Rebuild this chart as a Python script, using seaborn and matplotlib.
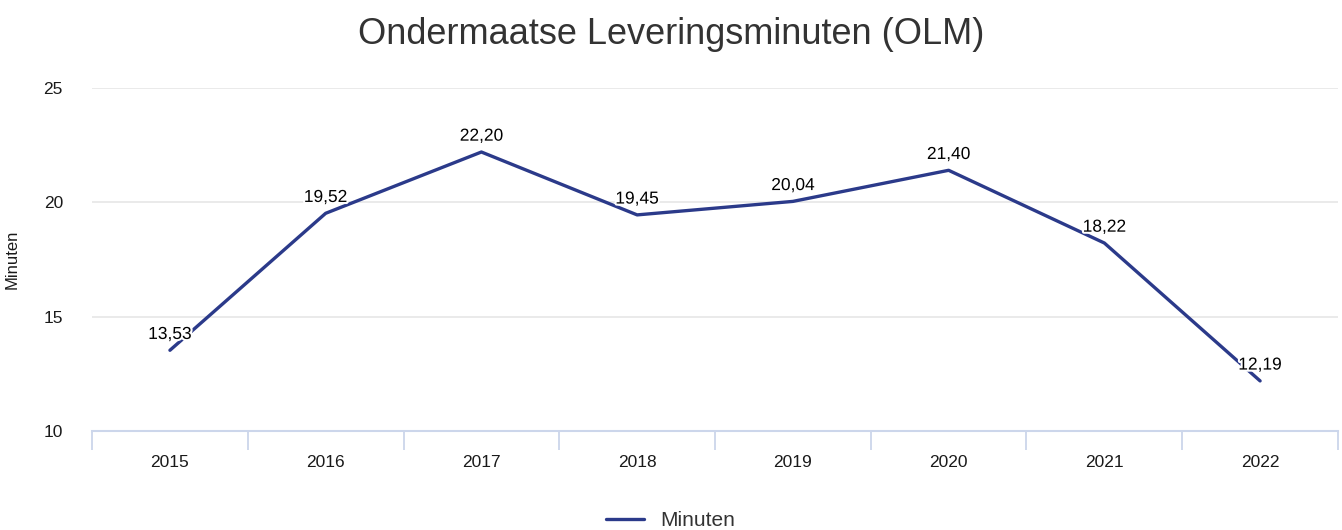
import matplotlib
matplotlib.use("Agg")
import matplotlib.pyplot as plt
import numpy as np
import pandas as pd
import seaborn as sns
import matplotlib.patheffects as pe

sns.set_theme(style="white")
plt.rcParams["font.family"] = ["Liberation Sans", "DejaVu Sans"]

years = ["2015", "2016", "2017", "2018", "2019", "2020", "2021", "2022"]
minutes = [13.53, 19.52, 22.20, 19.45, 20.04, 21.40, 18.22, 12.19]
y_ticks = [10, 15, 20, 25]

LINE_COLOR = "#2b3a8a"
AXIS_COLOR = "#ccd6eb"
GRID_COLOR = "#e6e6e6"
TEXT_COLOR = "#1a1a1a"

df = pd.DataFrame({"jaar": years, "Minuten": minutes})
df["pos"] = np.arange(len(df))

fig = plt.figure(figsize=(13.42, 5.30), dpi=100)
ax = fig.add_axes([0.0686, 0.1868, 0.9284, 0.6472])

sns.lineplot(data=df, x="pos", y="Minuten", ax=ax, color=LINE_COLOR,
             linewidth=2.4, label="Minuten", legend=False)

for xi, val in zip(df["pos"], df["Minuten"]):
    ax.annotate(f"{val:.2f}".replace(".", ","), (xi, val), xytext=(0, 6),
                textcoords="offset points", ha="center", va="bottom",
                fontsize=12.5, color="#000000",
                path_effects=[pe.withStroke(linewidth=3, foreground="white")])

ax.set_xlim(-0.5, len(years) - 0.5)
ax.set_ylim(10, 25)
ax.set_yticks(y_ticks)
ax.set_yticklabels([str(t) for t in y_ticks], fontsize=12.5, color=TEXT_COLOR)
ax.yaxis.grid(True, color=GRID_COLOR, linewidth=1.2)
ax.set_axisbelow(True)

ax.set_xticks(df["pos"])
ax.set_xticklabels(years, fontsize=12.5, color=TEXT_COLOR)
ax.set_xticks(np.arange(-0.5, len(years)), minor=True)
ax.tick_params(axis="x", which="major", bottom=False, length=0, pad=17)
ax.tick_params(axis="x", which="minor", bottom=True, length=14, width=1.3,
               color=AXIS_COLOR, direction="out")
ax.tick_params(axis="y", left=False, length=0, pad=21)

for side in ["top", "right", "left"]:
    ax.spines[side].set_visible(False)
ax.spines["bottom"].set_color(AXIS_COLOR)
ax.spines["bottom"].set_linewidth(1.5)

ax.set_xlabel("")
ax.set_ylabel("Minuten", fontsize=12, color=TEXT_COLOR)
ax.yaxis.set_label_coords(-0.058, 0.5)

fig.text(0.5, 0.935, "Ondermaatse Leveringsminuten (OLM)", fontsize=26,
         color="#333333", ha="center", va="center")

handles, labels = ax.get_legend_handles_labels()
fig.legend(handles, labels, loc="lower center", bbox_to_anchor=(0.5, -0.035),
           frameon=False, fontsize=15, handlelength=1.8, labelcolor="#333333")

fig.savefig("out.png", dpi=100)
plt.close(fig)
